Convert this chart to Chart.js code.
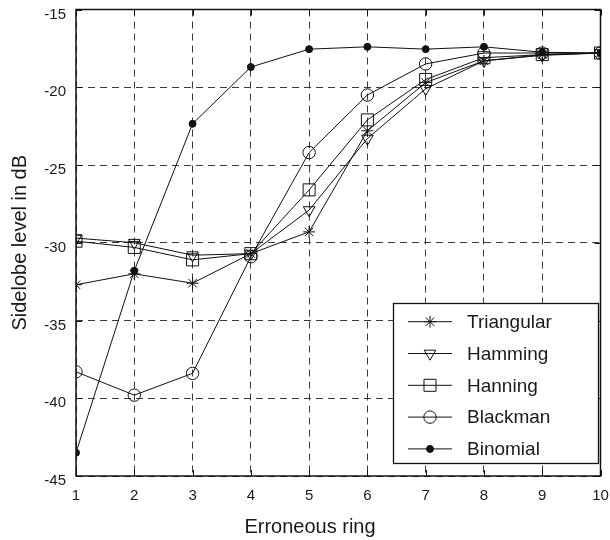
<!DOCTYPE html>
<html>
<head>
<meta charset="utf-8">
<script src="https://cdn.jsdelivr.net/npm/chart.js@4/dist/chart.umd.min.js"></script>
<style>
  html, body { margin: 0; padding: 0; background: #fff; }
  canvas { display: block; }
</style>
</head>
<body>
<canvas id="c" width="610" height="540"></canvas>
<script>
// ---- data ----
const categories = [1, 2, 3, 4, 5, 6, 7, 8, 9, 10];
const triangular = [-32.7, -32.0, -32.6, -30.7, -29.3, -22.8, -19.7, -18.3, -17.9, -17.8];
const hamming    = [-29.7, -30.0, -30.8, -30.7, -27.9, -23.3, -20.1, -18.3, -17.95, -17.8];
const hanning    = [-29.9, -30.3, -31.1, -30.7, -26.6, -22.1, -19.5, -18.1, -17.9, -17.8];
const blackman   = [-38.3, -39.8, -38.4, -30.9, -24.2, -20.5, -18.5, -17.8, -17.8, -17.8];
const binomial   = [-43.5, -31.8, -22.35, -18.7, -17.55, -17.4, -17.55, -17.4, -17.75, -17.8];
const seriesNames = ['Triangular', 'Hamming', 'Hanning', 'Blackman', 'Binomial'];
const yTicks = [-45, -40, -35, -30, -25, -20, -15];
const xTitle = 'Erroneous ring';
const yTitle = 'Sidelobe level in dB';

const FONT = "'Liberation Sans', Arial, Helvetica, sans-serif";
const INK = '#111';

function pts(arr) { return categories.map((c, i) => ({ x: c, y: arr[i] })); }

const styles = [
  { pointStyle: 'star', radius: 6, rotation: 0, fill: 'rgba(0,0,0,0)' },
  { pointStyle: 'triangle', radius: 6.7, rotation: 180, fill: 'rgba(0,0,0,0)' },
  { pointStyle: 'rect', radius: 8.5, rotation: 0, fill: 'rgba(0,0,0,0)' },
  { pointStyle: 'circle', radius: 6.2, rotation: 0, fill: 'rgba(0,0,0,0)' },
  { pointStyle: 'circle', radius: 3.5, rotation: 0, fill: INK }
];
const seriesData = [triangular, hamming, hanning, blackman, binomial];

const datasets = seriesNames.map((name, i) => ({
  label: name,
  data: pts(seriesData[i]),
  borderColor: INK,
  borderWidth: 1,
  pointStyle: styles[i].pointStyle,
  pointRadius: styles[i].radius,
  pointRotation: styles[i].rotation,
  pointBackgroundColor: styles[i].fill,
  pointBorderColor: INK,
  pointBorderWidth: 1,
  pointHoverRadius: styles[i].radius,
  tension: 0,
  fill: false
}));

const boxPlugin = {
  id: 'boxAndLegend',
  afterDraw(chart) {
    const ctx = chart.ctx;
    const a = chart.chartArea;
    const xs = chart.scales.x, ys = chart.scales.y;
    ctx.save();
    // inward ticks
    ctx.strokeStyle = INK;
    ctx.lineWidth = 1;
    ctx.setLineDash([]);
    ctx.beginPath();
    categories.forEach(c => {
      const px = Math.round(xs.getPixelForValue(c)) + 0.5;
      ctx.moveTo(px, a.bottom); ctx.lineTo(px, a.bottom - 6);
      ctx.moveTo(px, a.top); ctx.lineTo(px, a.top + 6);
    });
    yTicks.forEach(v => {
      const py = Math.round(ys.getPixelForValue(v)) + 0.5;
      ctx.moveTo(a.left, py); ctx.lineTo(a.left + 6, py);
      ctx.moveTo(a.right, py); ctx.lineTo(a.right - 6, py);
    });
    ctx.stroke();
    // legend box
    const lx = 393, ly = 303, lw = 205, lh = 160;
    ctx.fillStyle = '#fff';
    ctx.fillRect(lx, ly, lw, lh);
    ctx.strokeStyle = INK;
    ctx.lineWidth = 1.3;
    ctx.strokeRect(lx + 0.5, ly + 0.5, lw, lh);
    chart.data.datasets.forEach((ds, i) => {
      const y = 321.7 + i * 31.8;
      ctx.strokeStyle = INK;
      ctx.lineWidth = 1;
      ctx.beginPath();
      ctx.moveTo(408, y); ctx.lineTo(452, y);
      ctx.stroke();
      ctx.fillStyle = ds.pointBackgroundColor;
      ctx.strokeStyle = INK;
      ctx.lineWidth = 1;
      Chart.helpers.drawPoint(ctx, {
        pointStyle: ds.pointStyle, radius: ds.pointRadius,
        rotation: ds.pointRotation, borderWidth: 1
      }, 430, y);
      ctx.fillStyle = '#1a1a1a';
      ctx.font = '19px ' + FONT;
      ctx.textAlign = 'left';
      ctx.textBaseline = 'middle';
      ctx.fillText(ds.label, 467, y + 1);
    });
    // plot frame
    ctx.strokeStyle = INK;
    ctx.lineWidth = 1.5;
    ctx.strokeRect(a.left, a.top, a.right - a.left, a.bottom - a.top);
    // x axis title
    ctx.fillStyle = '#1a1a1a';
    ctx.font = '20px ' + FONT;
    ctx.textAlign = 'center';
    ctx.textBaseline = 'middle';
    ctx.fillText(xTitle, 310, 527);
    ctx.restore();
  }
};

new Chart(document.getElementById('c'), {
  type: 'line',
  data: { datasets },
  options: {
    responsive: false,
    animation: false,
    devicePixelRatio: 1,
    events: [],
    layout: { padding: { top: 8, right: 5, left: 0, bottom: 0 } },
    plugins: { legend: { display: false }, tooltip: { enabled: false } },
    scales: {
      x: {
        type: 'linear', min: 1, max: 10,
        afterBuildTicks: s => { s.ticks = categories.map(v => ({ value: v })); },
        afterFit: s => { s.height = 64; s.paddingLeft = 0; s.paddingRight = 0; },
        ticks: { padding: 11, color: '#1a1a1a', font: { family: FONT, size: 15 } },
        grid: { color: '#3a3a3a', lineWidth: 1, drawTicks: false },
        border: { display: false, dash: [7, 5] },
        title: { display: false, text: xTitle }
      },
      y: {
        min: -45, max: -15,
        afterBuildTicks: s => { s.ticks = yTicks.map(v => ({ value: v })); },
        afterFit: s => { s.width = 76; s.paddingTop = 0; s.paddingBottom = 0; },
        ticks: { padding: 10, labelOffset: 5, color: '#1a1a1a', font: { family: FONT, size: 15 } },
        grid: { color: '#3a3a3a', lineWidth: 1, drawTicks: false },
        border: { display: false, dash: [7, 5] },
        title: { display: true, text: yTitle, color: '#1a1a1a', font: { family: FONT, size: 20 }, padding: { top: 8, bottom: 0 } }
      }
    }
  },
  plugins: [boxPlugin]
});
</script>
</body>
</html>
